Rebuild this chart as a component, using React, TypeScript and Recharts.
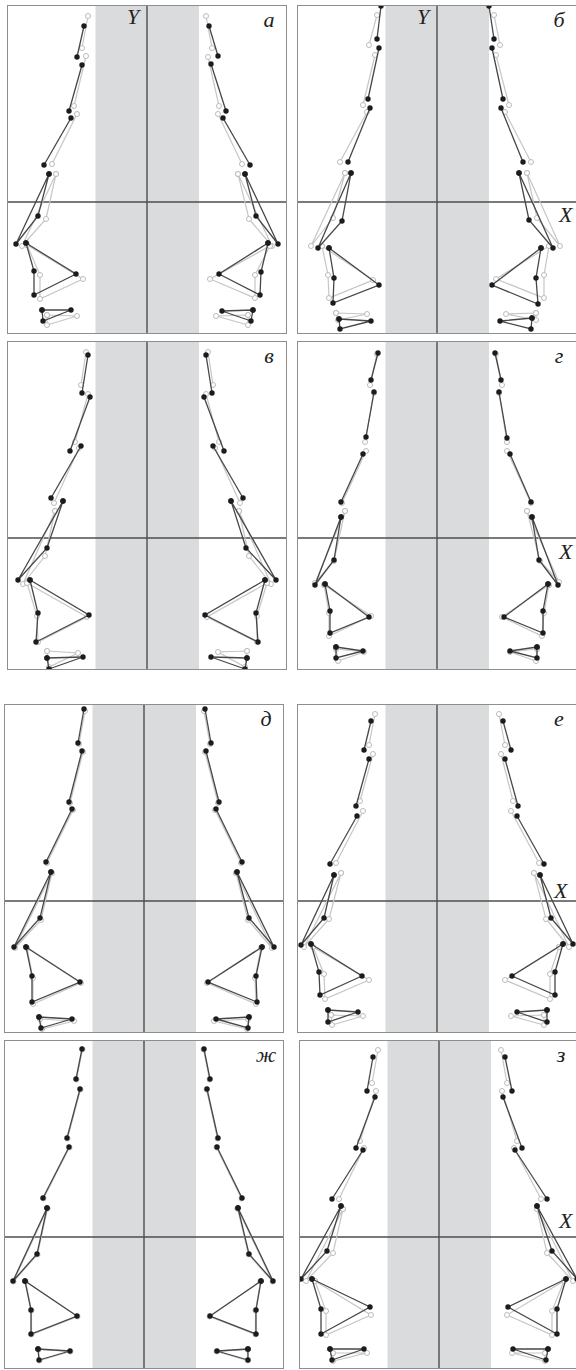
import { ScatterChart, Scatter, XAxis, YAxis, ReferenceArea, ReferenceLine } from "recharts";

type Pt = [number, number];

// landmark positions per panel, 16 points each, origin at the X/Y cross
// "prev" = the light reference contour, "cur" = the dark contour

// а
const aCurLeft: Pt[] = [[-63, 176], [-70, 145], [-65, 137], [-78, 91], [-76, 84], [-103, 37], [-98, 28], [-109, -14], [-131, -42], [-121, -41], [-113, -69], [-71, -72], [-113, -93], [-105, -108], [-76, -108], [-104, -119]];
const aPrevLeft: Pt[] = [[-59, 186], [-65, 154], [-61, 146], [-73, 96], [-70, 88], [-95, 38], [-91, 28], [-101, -17], [-125, -44], [-120, -43], [-107, -73], [-64, -77], [-107, -97], [-100, -113], [-70, -114], [-100, -123]];
const aCurRight: Pt[] = [[62, 176], [71, 146], [64, 138], [79, 91], [76, 84], [103, 37], [98, 28], [109, -14], [131, -42], [121, -41], [114, -70], [72, -72], [113, -93], [106, -108], [75, -109], [104, -119]];
const aPrevRight: Pt[] = [[59, 186], [65, 154], [61, 145], [72, 96], [71, 88], [95, 38], [91, 28], [102, -17], [125, -44], [123, -44], [108, -73], [63, -77], [108, -96], [101, -113], [69, -114], [101, -123]];

// б
const bCurLeft: Pt[] = [[-56, 196], [-60, 163], [-58, 154], [-69, 103], [-67, 94], [-89, 40], [-86, 29], [-95, -19], [-119, -46], [-108, -46], [-103, -76], [-58, -83], [-104, -101], [-98, -117], [-66, -119], [-97, -127]];
const bPrevLeft: Pt[] = [[-60, 187], [-68, 157], [-62, 147], [-74, 97], [-70, 90], [-97, 40], [-92, 29], [-104, -16], [-126, -44], [-115, -44], [-109, -73], [-64, -78], [-108, -96], [-101, -111], [-70, -112], [-99, -118]];
const bCurRight: Pt[] = [[52, 196], [57, 163], [55, 154], [66, 103], [64, 94], [86, 40], [82, 29], [92, -18], [116, -46], [104, -46], [99, -76], [55, -83], [101, -102], [95, -116], [63, -119], [94, -127]];
const bPrevRight: Pt[] = [[57, 187], [63, 157], [59, 147], [72, 97], [68, 90], [94, 40], [90, 29], [100, -16], [123, -44], [112, -44], [107, -73], [59, -77], [107, -96], [99, -111], [69, -112], [99, -118]];

// в
const vCurLeft: Pt[] = [[-59, 183], [-65, 145], [-57, 141], [-77, 87], [-66, 92], [-96, 40], [-84, 37], [-100, -10], [-129, -42], [-117, -42], [-109, -75], [-58, -77], [-111, -104], [-100, -120], [-64, -119], [-98, -131]];
const vPrevLeft: Pt[] = [[-61, 186], [-66, 153], [-59, 144], [-72, 96], [-68, 90], [-93, 35], [-92, 27], [-102, -18], [-124, -46], [-120, -45], [-110, -78], [-60, -79], [-109, -104], [-100, -113], [-69, -115], [-98, -129]];
const vCurRight: Pt[] = [[59, 183], [65, 145], [57, 141], [77, 87], [66, 92], [96, 40], [84, 37], [99, -10], [129, -42], [118, -42], [109, -75], [58, -77], [111, -104], [100, -120], [64, -119], [98, -131]];
const vPrevRight: Pt[] = [[61, 186], [66, 153], [59, 144], [72, 96], [68, 90], [93, 35], [92, 27], [102, -18], [124, -46], [120, -45], [110, -78], [60, -79], [110, -104], [100, -113], [71, -114], [98, -129]];

// г
const gCurLeft: Pt[] = [[-59, 185], [-66, 158], [-63, 146], [-71, 101], [-74, 84], [-96, 36], [-96, 21], [-103, -22], [-122, -47], [-112, -46], [-107, -73], [-68, -79], [-107, -95], [-101, -109], [-74, -113], [-101, -120]];
const gPrevLeft: Pt[] = [[-60, 184], [-67, 153], [-63, 145], [-72, 96], [-71, 87], [-95, 35], [-92, 27], [-103, -23], [-122, -45], [-113, -47], [-108, -75], [-66, -78], [-108, -98], [-101, -111], [-73, -114], [-99, -123]];
const gCurRight: Pt[] = [[58, 185], [64, 158], [62, 146], [70, 100], [73, 84], [94, 36], [95, 21], [102, -22], [121, -47], [111, -46], [106, -73], [67, -79], [106, -95], [100, -109], [73, -113], [100, -120]];
const gPrevRight: Pt[] = [[59, 184], [65, 153], [62, 145], [70, 96], [70, 87], [94, 35], [90, 27], [103, -23], [122, -44], [112, -47], [107, -75], [65, -79], [105, -98], [100, -111], [73, -114], [99, -123]];

// д
const dCurLeft: Pt[] = [[-60, 192], [-66, 158], [-62, 150], [-75, 99], [-72, 92], [-98, 39], [-93, 29], [-104, -17], [-130, -46], [-118, -46], [-112, -75], [-64, -81], [-112, -101], [-105, -116], [-72, -118], [-103, -127]];
const dPrevLeft: Pt[] = [[-59, 190], [-65, 157], [-61, 149], [-74, 98], [-71, 91], [-97, 38], [-92, 28], [-103, -19], [-129, -47], [-117, -47], [-111, -77], [-63, -82], [-111, -103], [-104, -118], [-70, -120], [-102, -128]];
const dCurRight: Pt[] = [[61, 192], [67, 158], [62, 150], [75, 99], [72, 92], [98, 39], [93, 29], [105, -17], [130, -46], [118, -46], [112, -75], [64, -81], [113, -101], [105, -116], [72, -118], [104, -127]];
const dPrevRight: Pt[] = [[60, 190], [66, 157], [61, 149], [74, 98], [71, 91], [97, 38], [92, 28], [104, -19], [128, -47], [117, -47], [111, -77], [63, -82], [112, -103], [104, -118], [70, -120], [103, -128]];

// е
const eCurLeft: Pt[] = [[-66, 180], [-73, 151], [-68, 142], [-81, 95], [-80, 85], [-107, 37], [-103, 26], [-113, -17], [-136, -44], [-126, -43], [-118, -71], [-75, -75], [-117, -94], [-109, -109], [-79, -111], [-109, -121]];
const ePrevLeft: Pt[] = [[-62, 187], [-68, 156], [-64, 147], [-77, 100], [-74, 90], [-101, 38], [-96, 28], [-108, -18], [-133, -46], [-124, -46], [-113, -73], [-68, -79], [-112, -98], [-106, -114], [-74, -115], [-105, -124]];
const eCurRight: Pt[] = [[66, 180], [74, 151], [68, 142], [81, 95], [80, 85], [107, 37], [103, 26], [114, -17], [136, -43], [126, -43], [118, -71], [75, -75], [118, -94], [110, -109], [80, -111], [110, -121]];
const ePrevRight: Pt[] = [[62, 187], [68, 156], [64, 147], [76, 100], [74, 90], [102, 38], [97, 28], [109, -18], [132, -46], [122, -46], [113, -73], [68, -79], [113, -98], [107, -114], [74, -115], [107, -124]];

// ж (the two contours practically coincide here)
const zhCurLeft: Pt[] = [[-62, 188], [-68, 158], [-64, 148], [-77, 99], [-75, 90], [-101, 39], [-97, 29], [-107, -17], [-131, -44], [-119, -44], [-113, -73], [-67, -79], [-113, -97], [-106, -112], [-74, -114], [-105, -123]];
const zhPrevLeft: Pt[] = [[-61.5, 187.5], [-67.5, 157.5], [-63.5, 147.5], [-76.5, 98.5], [-74.5, 89.5], [-100.5, 38.5], [-96.5, 28.5], [-106.5, -17.5], [-130.5, -44.5], [-118.5, -44.5], [-112.5, -73.5], [-66.5, -79.5], [-112.5, -97.5], [-105.5, -112.5], [-73.5, -114.5], [-104.5, -123.5]];
const zhCurRight: Pt[] = [[60, 188], [66, 158], [63, 148], [74, 99], [73, 90], [98, 39], [94, 29], [105, -17], [129, -44], [117, -44], [112, -73], [66, -79], [112, -97], [104, -112], [73, -114], [104, -123]];
const zhPrevRight: Pt[] = [[59.5, 187.5], [65.5, 157.5], [62.5, 147.5], [73.5, 98.5], [72.5, 89.5], [97.5, 38.5], [93.5, 28.5], [104.5, -17.5], [128.5, -44.5], [116.5, -44.5], [111.5, -73.5], [65.5, -79.5], [111.5, -97.5], [103.5, -112.5], [72.5, -114.5], [103.5, -123.5]];

// з
const zCurLeft: Pt[] = [[-66, 180], [-72, 146], [-64, 140], [-83, 89], [-76, 87], [-107, 38], [-98, 31], [-112, -14], [-138, -42], [-127, -42], [-118, -72], [-69, -70], [-118, -97], [-109, -112], [-75, -112], [-107, -123]];
const zPrevLeft: Pt[] = [[-61, 187], [-67, 154], [-63, 146], [-79, 96], [-75, 89], [-100, 38], [-96, 28], [-106, -16], [-133, -44], [-124, -44], [-113, -74], [-68, -78], [-113, -98], [-106, -116], [-72, -116], [-106, -124]];
const zCurRight: Pt[] = [[66, 180], [73, 146], [64, 140], [83, 89], [76, 87], [108, 38], [98, 31], [113, -14], [138, -42], [127, -42], [118, -72], [69, -70], [118, -97], [109, -112], [74, -112], [107, -123]];
const zPrevRight: Pt[] = [[62, 187], [68, 154], [63, 146], [78, 96], [75, 89], [102, 38], [98, 28], [108, -16], [134, -44], [125, -44], [113, -74], [68, -78], [113, -98], [106, -116], [73, -116], [106, -124]];

const LETTERS = ["а", "б", "в", "г", "д", "е", "ж", "з"];

// how the landmarks are joined: three bars, a triangle, a quad, a triangle
const CHAINS = [[0, 1], [2, 3], [4, 5], [6, 7, 8, 6], [9, 10, 12, 11, 9], [13, 14, 15, 13]];

const W = 280;
const H = 329;
const X_DOMAIN: [number, number] = [-140, 140];
const Y_DOMAIN: [number, number] = [-132, 197];
const BAND: [number, number] = [-51.5, 52];

const FONT = '"Liberation Serif", "DejaVu Serif", serif';

interface PanelProps {
  letter: string;
  left: number;
  top: number;
  cur: Pt[][];
  prev: Pt[][];
  showY?: boolean;
  xLabelTop?: number;
  xLabelLeft?: number;
}

const curDot = (p: any) => <circle cx={p.cx} cy={p.cy} r={2.7} fill="#1c1c1c" />;
const prevDot = (p: any) => (
  <circle cx={p.cx} cy={p.cy} r={2.5} fill="#ffffff" stroke="#bcbcbc" strokeWidth={1} />
);

function figure(pts: Pt[], kind: "cur" | "prev", key: string) {
  return CHAINS.map((chain, i) => (
    <Scatter
      key={`${key}-${i}`}
      data={chain.map((k) => ({ x: pts[k][0], y: pts[k][1] }))}
      line={
        kind === "cur"
          ? { stroke: "#474747", strokeWidth: 1.3 }
          : { stroke: "#c6c6c6", strokeWidth: 1.2 }
      }
      lineType="joint"
      shape={kind === "cur" ? curDot : prevDot}
      isAnimationActive={false}
    />
  ));
}

function Panel({ letter, left, top, cur, prev, showY, xLabelTop, xLabelLeft }: PanelProps) {
  const labelStyle: React.CSSProperties = {
    position: "absolute",
    fontFamily: FONT,
    fontStyle: "italic",
    fontSize: 22,
    lineHeight: 1,
    color: "#222",
    whiteSpace: "nowrap",
  };
  return (
    <div style={{ position: "absolute", left, top, width: W, height: H }}>
      <ScatterChart width={W} height={H} margin={{ top: 0, right: 0, bottom: 0, left: 0 }}>
        <XAxis type="number" dataKey="x" domain={X_DOMAIN} allowDataOverflow hide />
        <YAxis type="number" dataKey="y" domain={Y_DOMAIN} allowDataOverflow hide />
        <ReferenceArea x1={BAND[0]} x2={BAND[1]} fill="#dadbdd" fillOpacity={1} stroke="none" />
        <ReferenceLine x={0} stroke="#4e4e4e" strokeWidth={1.4} />
        <ReferenceLine y={0} stroke="#4e4e4e" strokeWidth={1.4} />
        {prev.map((p, i) => figure(p, "prev", `p${i}`))}
        {cur.map((p, i) => figure(p, "cur", `c${i}`))}
      </ScatterChart>
      <div
        style={{
          position: "absolute",
          left: 0,
          top: 0,
          width: W,
          height: H,
          border: "1.5px solid #8e8e8e",
          boxSizing: "border-box",
          pointerEvents: "none",
        }}
      />
      <span style={{ ...labelStyle, left: 262, top: 4, transform: "translateX(-50%)" }}>{letter}</span>
      {showY && <span style={{ ...labelStyle, left: 120, top: 1 }}>Y</span>}
      {xLabelTop !== undefined && (
        <span style={{ ...labelStyle, left: xLabelLeft, top: xLabelTop }}>X</span>
      )}
    </div>
  );
}

export default function App() {
  return (
    <div
      style={{
        position: "absolute",
        left: 0,
        top: 0,
        width: 576,
        height: 1370,
        background: "#ffffff",
        overflow: "hidden",
      }}
    >
      <Panel letter={LETTERS[0]} left={7} top={5} cur={[aCurLeft, aCurRight]} prev={[aPrevLeft, aPrevRight]} showY />
      <Panel letter={LETTERS[1]} left={297} top={5} cur={[bCurLeft, bCurRight]} prev={[bPrevLeft, bPrevRight]} showY xLabelTop={199} xLabelLeft={262} />
      <Panel letter={LETTERS[2]} left={7} top={341} cur={[vCurLeft, vCurRight]} prev={[vPrevLeft, vPrevRight]} />
      <Panel letter={LETTERS[3]} left={297} top={341} cur={[gCurLeft, gCurRight]} prev={[gPrevLeft, gPrevRight]} xLabelTop={200} xLabelLeft={262} />
      <Panel letter={LETTERS[4]} left={4} top={704} cur={[dCurLeft, dCurRight]} prev={[dPrevLeft, dPrevRight]} />
      <Panel letter={LETTERS[5]} left={297} top={704} cur={[eCurLeft, eCurRight]} prev={[ePrevLeft, ePrevRight]} xLabelTop={176} xLabelLeft={257} />
      <Panel letter={LETTERS[6]} left={4} top={1040} cur={[zhCurLeft, zhCurRight]} prev={[zhPrevLeft, zhPrevRight]} />
      <Panel letter={LETTERS[7]} left={299} top={1040} cur={[zCurLeft, zCurRight]} prev={[zPrevLeft, zPrevRight]} xLabelTop={170} xLabelLeft={260} />
    </div>
  );
}
